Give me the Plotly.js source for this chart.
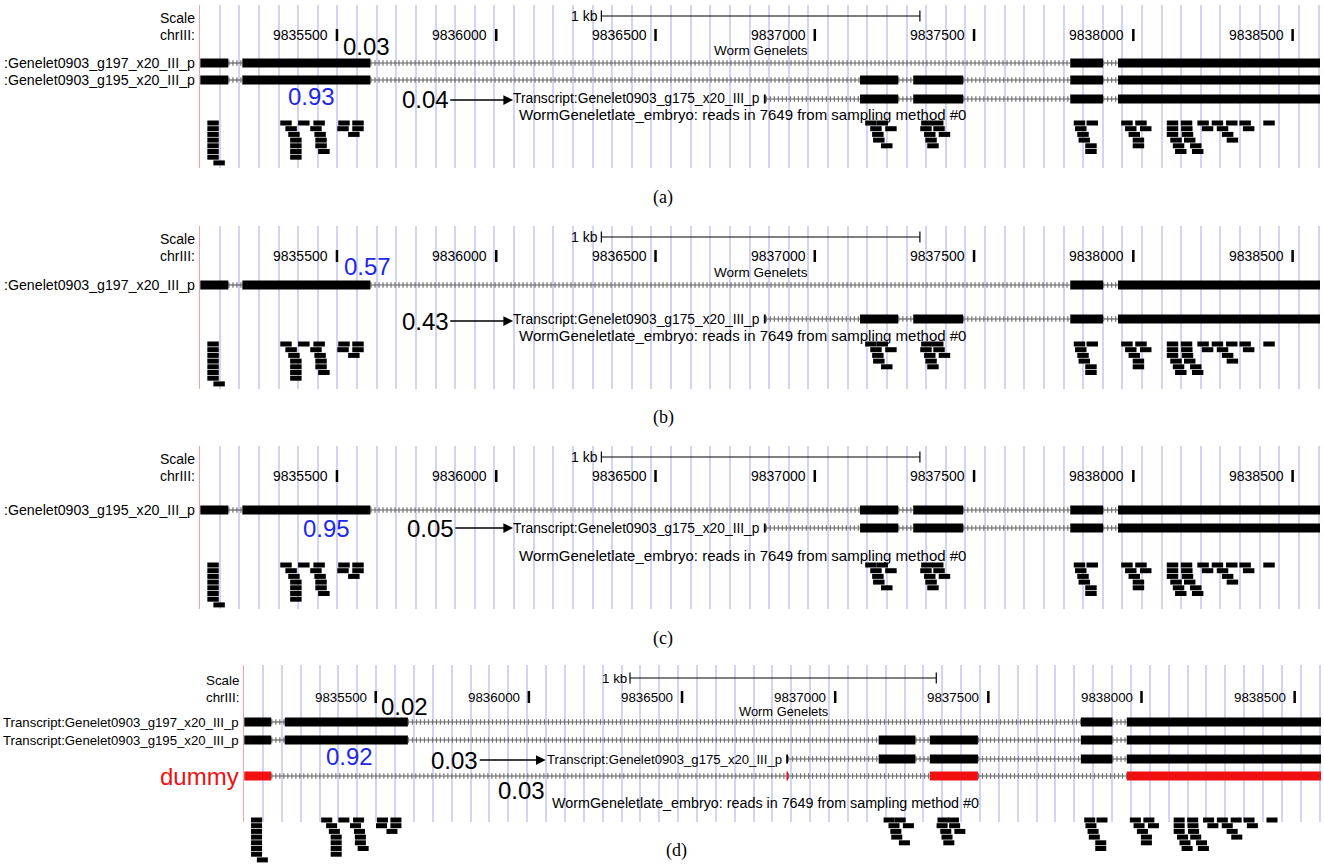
<!DOCTYPE html>
<html><head><meta charset="utf-8">
<script src="https://cdn.plot.ly/plotly-3.0.1.min.js"></script>
<style>html,body{margin:0;padding:0;background:#fff;overflow:hidden}</style>
</head><body><div id="chart" style="width:1324px;height:866px"></div>
<script>
// ---------------- data ----------------
const genomeStart = 9835070, genomeEnd = 9838586;
const tickPositions = [9835500, 9836000, 9836500, 9837000, 9837500, 9838000, 9838500];
const tickLabels = ["9835500", "9836000", "9836500", "9837000", "9837500", "9838000", "9838500"];
const scaleBarStart = 9836330, scaleBarEnd = 9837330, scaleBarLabel = "1 kb";

const g197Starts = [9835071, 9835203, 9837802, 9837952];
const g197Ends   = [9835159, 9835605, 9837905, 9838586];
const g195Starts = [9835071, 9835203, 9837142, 9837309, 9837802, 9837952];
const g195Ends   = [9835159, 9835605, 9837262, 9837466, 9837905, 9838586];
const g175Starts = [9836840, 9837142, 9837309, 9837802, 9837952];
const g175Ends   = [9836846, 9837262, 9837466, 9837905, 9838586];
const dummyStarts = [9835071, 9836841, 9837309, 9837952];
const dummyEnds   = [9835159, 9836846, 9837466, 9838586];

const readLength = 36;
const readStarts = [
  9835093,9835093,9835093,9835093,9835093,9835093,9835093,9835112,
  9835322,9835378,9835426, 9835338,9835416, 9835347,9835429, 9835353,9835432, 9835353,9835432, 9835353,9835441, 9835353,
  9835504,9835548, 9835501,9835548, 9835535,
  9837158,9837194, 9837174,9837221, 9837180, 9837183, 9837208,
  9837334,9837368, 9837331,9837372, 9837343,9837389, 9837347, 9837353,
  9837813,9837853, 9837817, 9837824, 9837828, 9837849, 9837849,
  9837962,9838006, 9837974,9838021, 9837985, 9837998, 9837998,
  9838105,9838149,9838201,9838246,9838291,9838333,9838408,
  9838105,9838150,9838215,9838262,9838344,
  9838105,9838152,9838278,
  9838116,9838159,9838293,
  9838124,9838178,
  9838131,9838184
];
const readLevels = [
  0,1,2,3,4,5,6,7,
  0,0,0, 1,1, 2,2, 3,3, 4,4, 5,5, 6,
  0,0, 1,1, 2,
  0,0, 1,1, 2, 3, 4,
  0,0, 1,1, 2,2, 3, 4,
  0,0, 1, 2, 3, 4, 5,
  0,0, 1,1, 2, 3, 4,
  0,0,0,0,0,0,0,
  1,1,1,1,1,
  2,2,2,
  3,3,3,
  4,4,
  5,5
];

const probValuesA = ["0.03", "0.93", "0.04"];
const probValuesB = ["0.57", "0.43"];
const probValuesC = ["0.95", "0.05"];
const probValuesD = ["0.02", "0.92", "0.03", "0.03"];

const labelG197Short = ":Genelet0903_g197_x20_III_p";
const labelG195Short = ":Genelet0903_g195_x20_III_p";
const labelG197 = "Transcript:Genelet0903_g197_x20_III_p";
const labelG195 = "Transcript:Genelet0903_g195_x20_III_p";
const labelG175 = "Transcript:Genelet0903_g175_x20_III_p";
const labelDummy = "dummy";
const trackTitle = "Worm Genelets";
const readsTitle = "WormGeneletlate_embryo: reads in 7649 from sampling method #0";
const captions = ["(a)", "(b)", "(c)", "(d)"];

// ---------------- layout / style ----------------
const W = 1324, H = 866;
const fx = px => px / W, fy = px => 1 - px / H;
const SANS = "Liberation Sans, Arial, sans-serif";
const BLUE = "#1e28e6", RED = "#f01010";
const guideStart = 9835132, guideStep = 61.6;

const panels = [
  { xDom:[200,1320], fs:1, top:5, bottom:168, scaleY:16, chrY:35, wormY:51, readsLabelY:115, read0Y:123, captionX:663, captionY:197,
    tracks:[ {s:g197Starts,e:g197Ends,y:63,label:labelG197Short},
             {s:g195Starts,e:g195Ends,y:80,label:labelG195Short},
             {s:g175Starts,e:g175Ends,y:99,inline:labelG175} ],
    probs:[ {v:probValuesA[0],x:9835592,y:47},
            {v:probValuesA[1],x:9835419,y:97,color:BLUE},
            {v:probValuesA[2],x:9835777,y:100,arrowTo:9836053} ] },
  { xDom:[200,1320], fs:1, top:226, bottom:389, scaleY:237, chrY:256, wormY:272, readsLabelY:335, read0Y:344, captionX:663, captionY:418,
    tracks:[ {s:g197Starts,e:g197Ends,y:285,label:labelG197Short},
             {s:g175Starts,e:g175Ends,y:319,inline:labelG175} ],
    probs:[ {v:probValuesB[0],x:9835595,y:266,color:BLUE},
            {v:probValuesB[1],x:9835777,y:321,arrowTo:9836053} ] },
  { xDom:[200,1320], fs:1, top:446, bottom:609, scaleY:457, chrY:476, wormY:null, readsLabelY:555, read0Y:565, captionX:663, captionY:638,
    tracks:[ {s:g195Starts,e:g195Ends,y:510,label:labelG195Short},
             {s:g175Starts,e:g175Ends,y:528,inline:labelG175} ],
    probs:[ {v:probValuesC[0],x:9835466,y:528,color:BLUE},
            {v:probValuesC[1],x:9835793,y:528,arrowTo:9836053} ] },
  { xDom:[244,1321], fs:0.955, top:665, bottom:822, scaleY:678, chrY:697, wormY:711, readsLabelY:803, read0Y:820, captionX:676, captionY:850,
    readsPanel:{top:812, bottom:866},
    tracks:[ {s:g197Starts,e:g197Ends,y:722,label:labelG197},
             {s:g195Starts,e:g195Ends,y:740,label:labelG195},
             {s:g175Starts,e:g175Ends,y:759,inline:labelG175},
             {s:dummyStarts,e:dummyEnds,y:776,label:labelDummy,color:RED,labelColor:RED,labelSize:24} ],
    probs:[ {v:probValuesD[0],x:9835595,y:706},
            {v:probValuesD[1],x:9835416,y:756,color:BLUE},
            {v:probValuesD[2],x:9835758,y:760,arrowTo:9836055},
            {v:probValuesD[3],x:9835977,y:790} ] }
];

const layout = {
  width: W, height: H, margin:{l:0,r:0,t:0,b:0},
  paper_bgcolor:"#fff", plot_bgcolor:"rgba(0,0,0,0)", showlegend:false,
  shapes:[], annotations:[], font:{family:SANS, color:"#000"}
};
const traces = [];
const axId = n => (n === 1 ? "" : String(n));

function axisPair(n, xDom, top, bottom, grid, redLine) {
  const id = axId(n);
  layout["xaxis"+id] = { domain:[fx(xDom[0]), fx(xDom[1])], range:[genomeStart, genomeEnd], anchor:"y"+id,
    showgrid:grid, gridcolor:"#d3d3f5", gridwidth:2, tickmode:"linear", tick0:guideStart, dtick:guideStep,
    showticklabels:false, ticks:"", zeroline:false, showline:false, fixedrange:true };
  layout["yaxis"+id] = { domain:[fy(bottom), fy(top)], range:[bottom, top], anchor:"x"+id,
    showgrid:false, showticklabels:false, ticks:"", zeroline:false,
    showline:redLine, linecolor:"#f2a4a4", linewidth:1.5, fixedrange:true };
  traces.push({x:[], y:[], xaxis:"x"+id, yaxis:"y"+id, type:"scatter", mode:"markers", hoverinfo:"skip"});
}

function text(xr, yr, x, y, t, opts) {
  layout.annotations.push(Object.assign({xref:xr, yref:yr, x:x, y:y, text:t, showarrow:false,
    font:{family:SANS, size:14, color:"#000"}, xanchor:"center", yanchor:"middle"}, opts||{}));
}

function drawReads(xr, yr, y0) {
  for (let i = 0; i < readStarts.length; i++) {
    const yc = y0 + readLevels[i]*5.7;
    layout.shapes.push({type:"rect", xref:xr, yref:yr, x0:readStarts[i], x1:readStarts[i]+readLength,
      y0:yc-2.5, y1:yc+2.5, fillcolor:"#000", line:{width:0}});
  }
}

panels.forEach((p, k) => {
  const n = k+1, xr = "x"+axId(n), yr = "y"+axId(n);
  const small = {family:SANS, size:14*p.fs, color:"#000"};
  axisPair(n, p.xDom, p.top, p.bottom, true, true);

  // scale bar
  layout.shapes.push({type:"line", xref:xr, yref:yr, x0:scaleBarStart, x1:scaleBarEnd, y0:p.scaleY, y1:p.scaleY, line:{color:"#000", width:1.2}});
  [scaleBarStart, scaleBarEnd].forEach(v => layout.shapes.push({type:"line", xref:xr, yref:yr, x0:v, x1:v, y0:p.scaleY-5.5, y1:p.scaleY+5.5, line:{color:"#000", width:1.2}}));
  text(xr, yr, scaleBarStart, p.scaleY, scaleBarLabel, {xanchor:"right", xshift:-1, font:small});
  text(xr, yr, genomeStart, p.scaleY+2, "Scale", {xanchor:"right", xshift:-3, font:small});
  text(xr, yr, genomeStart, p.chrY, "chrIII:", {xanchor:"right", xshift:-3, font:small});

  // position ticks
  tickPositions.forEach((v, i) => {
    layout.shapes.push({type:"line", xref:xr, yref:yr, x0:v, x1:v, y0:p.chrY-6, y1:p.chrY+6, line:{color:"#000", width:2.5}});
    text(xr, yr, v, p.chrY, tickLabels[i], {xanchor:"right", xshift:-7, font:small});
  });

  if (p.wormY !== null) text(xr, yr, 9836830, p.wormY, trackTitle, {font:{family:SANS, size:13.5*p.fs, color:"#000"}});
  text(xr, yr, 9836772, p.readsLabelY, readsTitle, {font:{family:SANS, size:15*p.fs, color:"#000"}});

  // transcripts
  p.tracks.forEach(t => {
    const col = t.color || "#000";
    for (let i = 0; i < t.s.length - 1; i++) {
      layout.shapes.push({type:"line", xref:xr, yref:yr, x0:t.e[i], x1:t.s[i+1], y0:t.y, y1:t.y, line:{color:"#5e5e5e", width:1.2}});
      layout.shapes.push({type:"line", xref:xr, yref:yr, x0:t.e[i], x1:t.s[i+1], y0:t.y, y1:t.y, line:{color:"#727272", width:5.5, dash:"1.2px,2.8px"}});
    }
    for (let i = 0; i < t.s.length; i++) {
      layout.shapes.push({type:"rect", xref:xr, yref:yr, x0:t.s[i], x1:t.e[i], y0:t.y-4.5, y1:t.y+4.5, fillcolor:col, line:{width:0}});
    }
    if (t.label) text(xr, yr, genomeStart, t.y, t.label, {xanchor:"right", xshift:-3,
      font:{family:SANS, size:t.labelSize||(p.fs < 1 ? 13.2 : 14.2), color:t.labelColor||"#000"}});
    if (t.inline) text(xr, yr, t.s[0], t.y, t.inline, {xanchor:"right", xshift:-2, font:{family:SANS, size:13.8*p.fs, color:"#000"}});
  });

  // probabilities
  p.probs.forEach(q => {
    const f = {family:SANS, size:24, color:q.color||"#000"};
    if (q.arrowTo) {
      layout.annotations.push({xref:xr, yref:yr, x:q.arrowTo, y:q.y, axref:xr, ayref:yr, ax:q.x, ay:q.y,
        text:q.v, font:f, showarrow:true, arrowhead:2, arrowsize:1.5, arrowwidth:1.3, arrowcolor:"#000", standoff:0});
    } else {
      text(xr, yr, q.x, q.y, q.v, {font:f});
    }
  });

  // reads
  if (p.readsPanel) {
    axisPair(5, p.xDom, p.readsPanel.top, p.readsPanel.bottom, false, false);
    drawReads("x5", "y5", p.read0Y);
  } else {
    drawReads(xr, yr, p.read0Y);
  }

  // caption
  layout.annotations.push({xref:"paper", yref:"paper", x:fx(p.captionX), y:fy(p.captionY), text:captions[k],
    showarrow:false, font:{family:"Liberation Serif, DejaVu Serif, serif", size:18, color:"#000"}, xanchor:"center", yanchor:"middle"});
});

Plotly.newPlot("chart", traces, layout, {displayModeBar:false, staticPlot:true});
</script>
</body></html>
